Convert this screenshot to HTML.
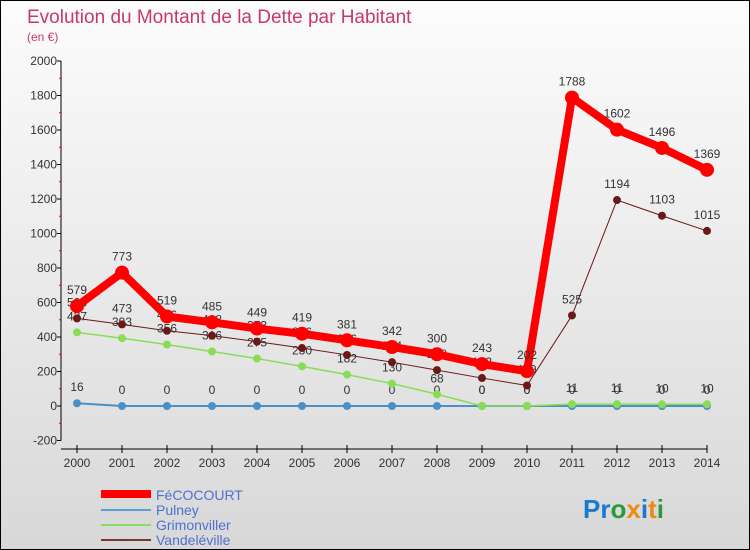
<!DOCTYPE html>
<html><head><meta charset="utf-8"><style>
body{margin:0}
#c{width:750px;height:550px;position:relative;background:linear-gradient(#fcfcfc,#d8d8d8);border:1px solid #000;box-sizing:border-box;overflow:hidden;font-family:"Liberation Sans",sans-serif}
</style></head><body>
<div id="c">
<svg id="s" width="750" height="550" style="position:absolute;left:0;top:0">
<text x="26" y="22" font-size="19" fill="#c8386a">Evolution du Montant de la Dette par Habitant</text>
<text x="26" y="40" font-size="12" fill="#c8386a">(en €)</text>
<g id="axes"></g><g id="series"></g>
<g>
<line x1="100" y1="493" x2="150" y2="493" stroke="#ff0000" stroke-width="8"/>
<text x="155" y="499" font-size="14" fill="#5070d0">FéCOCOURT</text>
<line x1="100" y1="509" x2="150" y2="509" stroke="#5ba0d0" stroke-width="2"/>
<text x="155" y="514" font-size="14" fill="#5070d0">Pulney</text>
<line x1="100" y1="524" x2="150" y2="524" stroke="#88dd66" stroke-width="2"/>
<text x="155" y="529" font-size="14" fill="#5070d0">Grimonviller</text>
<line x1="100" y1="539" x2="150" y2="539" stroke="#7a3535" stroke-width="2"/>
<text x="155" y="544" font-size="14" fill="#5070d0">Vandeléville</text>
</g>
<text x="582" y="517" font-size="26" font-weight="bold"><tspan fill="#1a7ad0">Pr</tspan><tspan fill="#2a9a3a">o</tspan><tspan fill="#f08a10">x</tspan><tspan fill="#1a7ad0">i</tspan><tspan fill="#f08a10">t</tspan><tspan fill="#2a9a3a">i</tspan></text>
</svg>
</div>
<script>
const years=[2000,2001,2002,2003,2004,2005,2006,2007,2008,2009,2010,2011,2012,2013,2014];
const yTicks=[-200,0,200,400,600,800,1000,1200,1400,1600,1800,2000];
const fecocourt=[579,773,519,485,449,419,381,342,300,243,202,1788,1602,1496,1369];
const pulney=[16,0,0,0,0,0,0,0,0,0,0,0,0,0,0];
const grimonviller=[427,393,356,316,275,230,182,130,68,0,0,11,11,10,10];
const vandeleville=[508,473,436,408,373,336,296,254,208,162,119,525,1194,1103,1015];
const NS='http://www.w3.org/2000/svg';
const xS=i=>76+i*45;
const yS=v=>405-v*0.1725;
function mk(tag,attrs,parent,text){const e=document.createElementNS(NS,tag);for(const k in attrs)e.setAttribute(k,attrs[k]);if(text!==undefined)e.textContent=text;parent.appendChild(e);return e;}
const ax=document.getElementById('axes');
const yl=mk('line',{x1:60,y1:yS(2000),x2:60,y2:yS(-200),stroke:'#000'},ax);


yTicks.forEach(v=>{
  mk('line',{x1:56,y1:yS(v),x2:60,y2:yS(v),stroke:'#000'},ax);
  if(v<2000)mk('line',{x1:58,y1:yS(v+100),x2:60,y2:yS(v+100),stroke:'#e00'},ax);
  const t=mk('text',{x:56,y:yS(v)+4,'font-size':12,fill:'#333','text-anchor':'end'},ax,v);
  
  
});
const xl=mk('line',{x1:60,y1:448,x2:xS(14),y2:448,stroke:'#000'},ax);


years.forEach((y,i)=>{
  mk('line',{x1:xS(i),y1:444,x2:xS(i),y2:452,stroke:'#000'},ax);
  const t=mk('text',{x:xS(i),y:466,'font-size':12,fill:'#333','text-anchor':'middle'},ax,y);
  
  
});
const sg=document.getElementById('series');
function draw(name,data,color,w,r,labels){
  const g=mk('g',{},sg);
  
  
  mk('polyline',{points:data.map((v,i)=>xS(i)+','+yS(v)).join(' '),fill:'none',stroke:color,'stroke-width':w,'stroke-linejoin':'round'},g);
  data.forEach((v,i)=>{
    const c=mk('circle',{cx:xS(i),cy:yS(v),r:r,fill:color},g);
    
    
    const t=mk('text',{x:xS(i),y:yS(v)-12,'font-size':12,fill:'#333','text-anchor':'middle'},g,v);
    
    
  });
}
draw('pulney',pulney,'#4a90c8',2,4);
draw('grimonviller',grimonviller,'#88dd55',1.5,4);
draw('vandeleville',vandeleville,'#6a1818',1,4);
draw('fecocourt',fecocourt,'#ff0000',8,7);
</script>
</body></html>
